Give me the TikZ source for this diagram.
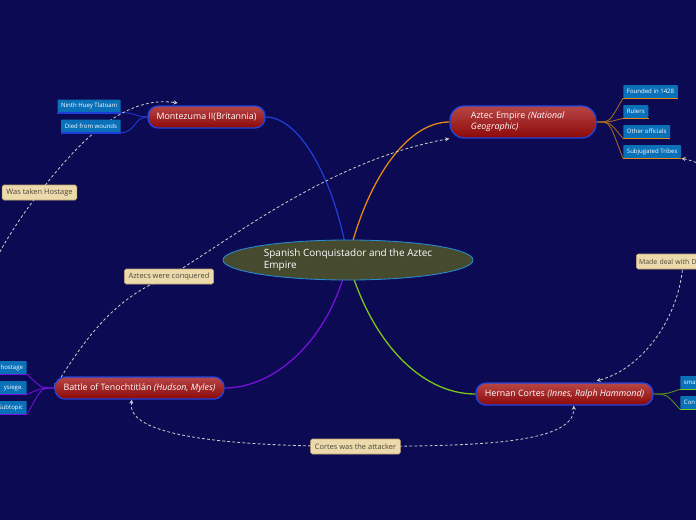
\documentclass[tikz,border=0pt]{standalone}
\usepackage{fontspec}
\setmainfont{Open Sans}
\usetikzlibrary{arrows.meta,shapes.geometric}
\definecolor{bgnavy}{RGB}{12,10,82}
\definecolor{ctrfill}{RGB}{70,75,48}
\definecolor{ctredge}{RGB}{40,140,210}
\definecolor{redtop}{RGB}{184,70,70}
\definecolor{redbot}{RGB}{140,8,8}
\definecolor{topicedge}{RGB}{30,70,225}
\definecolor{subblue}{RGB}{10,112,184}
\definecolor{tanfill}{RGB}{236,218,172}
\definecolor{tanedge}{RGB}{190,165,110}
\definecolor{calltext}{RGB}{80,70,55}
\definecolor{relgray}{RGB}{200,200,200}
\definecolor{montblue}{RGB}{30,60,215}
\definecolor{aztorange}{RGB}{232,138,16}
\definecolor{aztbrown}{RGB}{168,106,32}
\definecolor{batpurple}{RGB}{122,16,224}
\definecolor{corgreen}{RGB}{124,200,28}
\definecolor{cordark}{RGB}{90,150,30}
\pgfdeclarelayer{bg}
\pgfdeclarelayer{links}
\pgfsetlayers{bg,links,main}
\tikzset{
  topic/.style={draw=topicedge, line width=0.9pt, rounded corners=0.25cm,
    top color=redtop, bottom color=redbot, text=white,
    font=\fontsize{6.3}{7.8}\selectfont, minimum height=0.55cm, inner xsep=0pt},
  subtopic/.style={fill=subblue, text=white, rounded corners=0.6pt,
    font=\fontsize{4.3}{5}\selectfont, minimum height=0.325cm, inner xsep=2.6pt, inner ysep=0pt},
  callout/.style={fill=tanfill, draw=tanedge, line width=0.4pt, rounded corners=1.2pt,
    text=calltext, font=\fontsize{5.3}{6}\selectfont, minimum height=0.375cm, inner xsep=3pt, inner ysep=0pt},
  relation/.style={draw=relgray, dash pattern=on 2pt off 1.6pt, line width=0.6pt},
  tip/.style={{Stealth[length=3pt,width=3pt]}-{Stealth[length=3pt,width=3pt]}},
  branch/.style={line width=0.9pt},
  twig/.style={line width=0.6pt},
  underline/.style={line width=1.1pt}
}
\begin{document}
\begin{tikzpicture}[x=0.025cm,y=-0.025cm]
\useasboundingbox (0,0) rectangle (696,520);
\begin{pgfonlayer}{bg}
\fill[bgnavy] (0,0) rectangle (696,520);
\end{pgfonlayer}
\clip (0,0) rectangle (696,520);

\node[ellipse, fill=ctrfill, draw=ctredge, line width=0.6pt, text=white, align=left,
  font=\fontsize{7.1}{9}\selectfont, minimum width=6.25cm, minimum height=1cm, inner sep=0pt]
  (ctr) at (348,260) {Spanish Conquistador and the Aztec\\Empire};

\node[topic, minimum width=2.925cm] (mont) at (206.5,117) {Montezuma II(Britannia)};
\node[topic, minimum width=3.65cm, minimum height=0.8cm, rounded corners=0.36cm,
  text width=2.6cm, align=left] (az) at (523,122) {Aztec Empire \textit{(National}\\\textit{Geographic)}};
\node[topic, minimum width=4.225cm] (bat) at (139.5,388) {Battle of Tenochtitlán \textit{(Hudson, Myles)}};
\node[topic, minimum width=4.425cm] (cor) at (564.5,394) {Hernan Cortes \textit{(Innes, Ralph Hammond)}};

\node[subtopic, anchor=east] (m1) at (121,106) {Ninth Huey Tlatoani};
\node[subtopic, anchor=east] (m2) at (121,126) {Died from wounds};
\node[subtopic, anchor=west] (a1) at (623,91.5) {Founded in 1428};
\node[subtopic, anchor=west] (a2) at (623,111.5) {Rulers};
\node[subtopic, anchor=west] (a3) at (623,131.5) {Other officials};
\node[subtopic, anchor=west] (a4) at (623,151.5) {Subjugated Tribes};
\node[subtopic, anchor=east, text width=1.4cm, align=right] (b1) at (27,367.5) {hostage};
\node[subtopic, anchor=east, text width=1.4cm, align=right] (b2) at (27,387.5) {ysiege.};
\node[subtopic, anchor=east, text width=1.4cm, align=right] (b3) at (27,407.5) {Subtopic};
\node[subtopic, anchor=west, text width=1.4cm, align=left] (c1) at (680,382.5) {sma};
\node[subtopic, anchor=west, text width=1.4cm, align=left] (c2) at (680,402.5) {Con};

\draw[montblue, underline] (m1.south west) -- (m1.south east);
\draw[montblue, underline] (m2.south west) -- (m2.south east);
\foreach \s in {a1,a2,a3,a4}
  \draw[aztorange, underline] (\s.south west) -- (\s.south east);
\foreach \s in {b1,b2,b3}
  \draw[batpurple, underline] (\s.south west) -- (\s.south east);
\foreach \s in {c1,c2}
  \draw[corgreen, underline] (\s.south west) -- (\s.south east);

\node[callout] (host) at (39.5,192.5) {Was taken Hostage};
\node[callout] (conq) at (169,276.5) {Aztecs were conquered};
\node[callout, anchor=west, text width=2.2cm, align=left, inner xsep=2pt,
  font=\fontsize{4.9}{6}\selectfont] (deal) at (636,261.5) {Made deal with D};
\node[callout] (att) at (355.5,446.5) {Cortes was the attacker};
\coordinate (hsrc) at (-40,345);

\begin{pgfonlayer}{links}
\draw[branch, montblue] (ctr.center) .. controls (335,180) and (300,117) .. (mont.east);
\draw[branch, aztorange] (ctr.center) .. controls (365,185) and (405,122) .. (az.west);
\draw[branch, batpurple] (ctr.center) .. controls (330,340) and (275,388) .. (bat.east);
\draw[branch, corgreen] (ctr.center) .. controls (370,340) and (420,394) .. (cor.west);

\draw[twig, montblue] (mont.west) .. controls (136,117) and (134,112) .. (m1.south east);
\draw[twig, montblue] (mont.west) .. controls (134,117) and (136,132) .. (m2.south east);
\foreach \s in {a1,a2,a3,a4}
  \draw[twig, aztbrown] (az.east) .. controls (611,122) and (609,122) .. (\s.south west);
\foreach \s in {b1,b2,b3}
  \draw[twig, batpurple] (bat.west) .. controls (40,388) and (42,388) .. (\s.south east);
\foreach \s in {c1,c2}
  \draw[twig, cordark] (cor.east) .. controls (667,394) and (666,394) .. (\s.south west);

\draw[relation, -{Stealth[length=3pt,width=3pt]}] (hsrc) .. controls (-20,280) and (10,230) .. (host.center)
  .. controls (80,140) and (125,95) .. ([xshift=-0.72cm,yshift=0.06cm]mont.north);
\draw[relation, tip] (bat.west) .. controls (90,330) and (120,295) .. (conq.center)
  .. controls (230,240) and (330,160) .. (az.south west);
\draw[relation, tip] (a4.south east) .. controls (740,170) and (740,240) .. (deal.center)
  .. controls (680,320) and (640,370) .. ([xshift=0.8cm,yshift=0.04cm]cor.north);
\draw[relation, tip] ([xshift=-0.19cm]bat.south) .. controls (125,440) and (250,446) .. (att.center)
  .. controls (470,446) and (575,445) .. ([xshift=0.23cm]cor.south);
\end{pgfonlayer}
\end{tikzpicture}
\end{document}
